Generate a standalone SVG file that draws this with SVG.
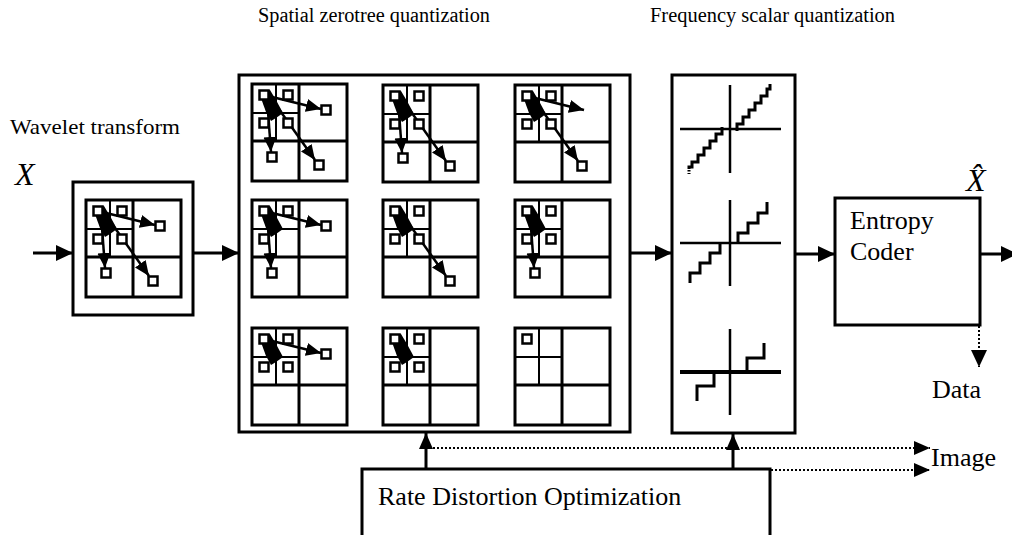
<svg xmlns="http://www.w3.org/2000/svg" xmlns:xlink="http://www.w3.org/1999/xlink" width="1012" height="535" viewBox="0 0 1012 535">
<style>
.t{font-family:"Liberation Serif","Times New Roman",serif;fill:#000}
.box{fill:#fff;stroke:#000;stroke-width:3}
.fr{fill:none;stroke:#000;stroke-width:3}
.sub{fill:none;stroke:#000;stroke-width:2}
.sq{fill:#fff;stroke:#000;stroke-width:2.5}
.ar{stroke:#000;stroke-width:2.5;fill:none;marker-end:url(#ah)}
.blob{fill:#000}
.ln{stroke:#000;stroke-width:3;fill:none}
.st{stroke:#000;stroke-width:3;fill:none;stroke-linejoin:miter}
.ax{stroke:#000;stroke-width:2.5}
.dot{stroke:#000;stroke-width:2;stroke-dasharray:2 2;fill:none}
</style>
<defs>
<marker id="ah" markerUnits="userSpaceOnUse" markerWidth="16" markerHeight="13" refX="15" refY="6.5" orient="auto"><path d="M0,0 L15,6.5 L0,13 Z" fill="#000"/></marker>
<marker id="big" markerUnits="userSpaceOnUse" markerWidth="17" markerHeight="16" refX="17" refY="8" orient="auto"><path d="M0,0 L17,8 L0,16 Z" fill="#000"/></marker>
<marker id="sm" markerUnits="userSpaceOnUse" markerWidth="16" markerHeight="14" refX="16" refY="7" orient="auto"><path d="M0,0 L16,7 L0,14 Z" fill="#000"/></marker>
<g id="frame">
<rect x="0" y="0" width="95" height="97" class="fr"/>
<line x1="47" y1="0" x2="47" y2="97" class="fr"/>
<line x1="0" y1="57" x2="95" y2="57" class="fr"/>
<line x1="24" y1="0" x2="24" y2="57" class="sub"/>
<line x1="0" y1="29" x2="47" y2="29" class="sub"/>
</g>
<rect id="s" x="-4.5" y="-4.5" width="9" height="9" class="sq"/>
<polygon id="blob" class="blob" points="8,8 18,6 24,16 31,29 24,34 19,37 14,28 10,17"/>
<line id="aR" x1="16" y1="12" x2="69" y2="25" class="ar"/>
<line id="aD" x1="15" y1="14" x2="19" y2="68" class="ar"/>
<line id="aG" x1="19" y1="14" x2="63" y2="76" class="ar"/>
</defs>

<g id="title-spatial"><text class="t" x="258" y="22" font-size="20" textLength="232" lengthAdjust="spacingAndGlyphs">Spatial zerotree quantization</text></g>
<g id="title-frequency"><text class="t" x="650" y="22" font-size="20" textLength="245" lengthAdjust="spacingAndGlyphs">Frequency scalar quantization</text></g>
<g id="label-wavelet"><text class="t" x="10" y="134" font-size="22" textLength="170" lengthAdjust="spacingAndGlyphs">Wavelet transform</text></g>
<g id="label-x"><text class="t" x="15" y="185" font-size="32" font-style="italic">X</text></g>
<g id="label-xhat"><text class="t" x="966" y="191" font-size="32" font-style="italic">X̂</text></g>

<g id="wavelet">
<rect x="73" y="182" width="120" height="133" class="box"/>
<g transform="translate(86,200)">
<use xlink:href="#frame"/>
<use xlink:href="#aR"/><use xlink:href="#aD"/><use xlink:href="#aG"/>
<use xlink:href="#blob"/>
<use xlink:href="#s" x="12" y="11"/><use xlink:href="#s" x="36" y="11"/><use xlink:href="#s" x="12" y="39"/><use xlink:href="#s" x="36" y="39"/>
<use xlink:href="#s" x="74" y="26"/><use xlink:href="#s" x="20" y="73"/><use xlink:href="#s" x="67" y="81"/>
</g>
</g>

<g id="spatial-zerotree">
<rect x="239" y="75" width="391" height="357" class="box"/>
<g transform="translate(252,84)">
<use xlink:href="#frame"/>
<use xlink:href="#aR"/><use xlink:href="#aD"/><use xlink:href="#aG"/><use xlink:href="#blob"/>
<use xlink:href="#s" x="12" y="11"/><use xlink:href="#s" x="36" y="11"/><use xlink:href="#s" x="12" y="39"/><use xlink:href="#s" x="36" y="39"/>
<use xlink:href="#s" x="74" y="26"/><use xlink:href="#s" x="20" y="73"/><use xlink:href="#s" x="67" y="81"/>
</g>
<g transform="translate(383,85)">
<use xlink:href="#frame"/>
<use xlink:href="#aD"/><use xlink:href="#aG"/><use xlink:href="#blob"/>
<use xlink:href="#s" x="12" y="11"/><use xlink:href="#s" x="36" y="11"/><use xlink:href="#s" x="12" y="39"/><use xlink:href="#s" x="36" y="39"/>
<use xlink:href="#s" x="20" y="73"/><use xlink:href="#s" x="67" y="81"/>
</g>
<g transform="translate(515,85)">
<use xlink:href="#frame"/>
<use xlink:href="#aR"/><use xlink:href="#aG"/><use xlink:href="#blob"/>
<use xlink:href="#s" x="12" y="11"/><use xlink:href="#s" x="36" y="11"/><use xlink:href="#s" x="12" y="39"/><use xlink:href="#s" x="36" y="39"/>
<use xlink:href="#s" x="67" y="81"/>
</g>
<g transform="translate(252,200)">
<use xlink:href="#frame"/>
<use xlink:href="#aR"/><use xlink:href="#aD"/><use xlink:href="#blob"/>
<use xlink:href="#s" x="12" y="11"/><use xlink:href="#s" x="36" y="11"/><use xlink:href="#s" x="12" y="39"/>
<use xlink:href="#s" x="74" y="26"/><use xlink:href="#s" x="20" y="73"/>
</g>
<g transform="translate(383,200)">
<use xlink:href="#frame"/>
<use xlink:href="#aG"/><use xlink:href="#blob"/>
<use xlink:href="#s" x="12" y="11"/><use xlink:href="#s" x="36" y="11"/><use xlink:href="#s" x="12" y="39"/><use xlink:href="#s" x="36" y="39"/>
<use xlink:href="#s" x="67" y="81"/>
</g>
<g transform="translate(515,200)">
<use xlink:href="#frame"/>
<use xlink:href="#aD"/><use xlink:href="#blob"/>
<use xlink:href="#s" x="12" y="11"/><use xlink:href="#s" x="36" y="11"/><use xlink:href="#s" x="12" y="39"/><use xlink:href="#s" x="36" y="39"/>
<use xlink:href="#s" x="20" y="73"/>
</g>
<g transform="translate(252,328)">
<use xlink:href="#frame"/>
<use xlink:href="#aR"/><use xlink:href="#blob"/>
<use xlink:href="#s" x="12" y="11"/><use xlink:href="#s" x="36" y="11"/><use xlink:href="#s" x="12" y="39"/><use xlink:href="#s" x="36" y="39"/>
<use xlink:href="#s" x="74" y="26"/>
</g>
<g transform="translate(383,328)">
<use xlink:href="#frame"/>
<use xlink:href="#blob"/>
<use xlink:href="#s" x="12" y="11"/><use xlink:href="#s" x="36" y="11"/><use xlink:href="#s" x="12" y="39"/><use xlink:href="#s" x="36" y="39"/>
</g>
<g transform="translate(515,328)">
<use xlink:href="#frame"/>
<use xlink:href="#s" x="12" y="11"/>
</g>
</g>

<g id="frequency-scalar">
<rect x="672" y="75" width="123" height="358" class="box"/>
<line x1="680" y1="129" x2="781" y2="129" class="ax"/>
<line x1="730" y1="85" x2="730" y2="173" class="ax"/>
<path class="st" d="M737,131 V124 H743 V117 H749 V110 H755 V103 H761 V96 H767 V89 H770 V84"/>
<path class="st" d="M722,127 V134 H716 V141 H710 V148 H704 V155 H698 V162 H692 V167 H689 V169"/>
<line x1="689" y1="170" x2="689" y2="174" stroke="#000" stroke-width="3" stroke-dasharray="1.5 1.5"/>
<line x1="680" y1="243" x2="781" y2="243" class="ax"/>
<line x1="730" y1="200" x2="730" y2="286" class="ax"/>
<path class="st" d="M738,243 V233 H748 V223 H758 V213 H767 V202"/>
<path class="st" d="M720,243 V253 H710 V263 H700 V273 H690 V283"/>
<line x1="680" y1="372" x2="781" y2="372" stroke="#000" stroke-width="4"/>
<line x1="730" y1="329" x2="730" y2="415" class="ax"/>
<path class="st" d="M747,372 V358 H764 V343"/>
<path class="st" d="M714,372 V386 H697 V401"/>
</g>

<g id="entropy-coder">
<rect x="835" y="198" width="145" height="127" class="box"/>
<text class="t" x="850" y="229" font-size="26">Entropy</text>
<text class="t" x="850" y="260" font-size="26">Coder</text>
</g>

<g id="rate-distortion">
<rect x="362" y="469" width="408" height="90" class="box"/>
<text class="t" x="378" y="505" font-size="26">Rate Distortion Optimization</text>
</g>

<g id="label-data"><text class="t" x="932" y="398" font-size="26">Data</text></g>
<g id="label-image"><text class="t" x="931" y="466" font-size="26">Image</text></g>

<g id="connectors">
<line x1="33" y1="253" x2="73" y2="253" class="ln" marker-end="url(#big)"/>
<line x1="194" y1="253" x2="239" y2="253" class="ln" marker-end="url(#big)"/>
<line x1="631" y1="253" x2="672" y2="253" class="ln" marker-end="url(#big)"/>
<line x1="796" y1="254" x2="835" y2="254" class="ln" marker-end="url(#big)"/>
<line x1="981" y1="254" x2="1018" y2="254" class="ln" marker-end="url(#big)"/>
<line x1="979" y1="326" x2="979" y2="367" class="dot" marker-end="url(#big)"/>
<line x1="426" y1="469" x2="426" y2="433" class="ln" marker-end="url(#sm)"/>
<line x1="733" y1="469" x2="733" y2="434" class="ln" marker-end="url(#sm)"/>
<line x1="429" y1="448" x2="930" y2="448" class="dot" marker-end="url(#sm)"/>
<line x1="771" y1="470" x2="930" y2="470" class="dot" marker-end="url(#sm)"/>
</g>
</svg>
